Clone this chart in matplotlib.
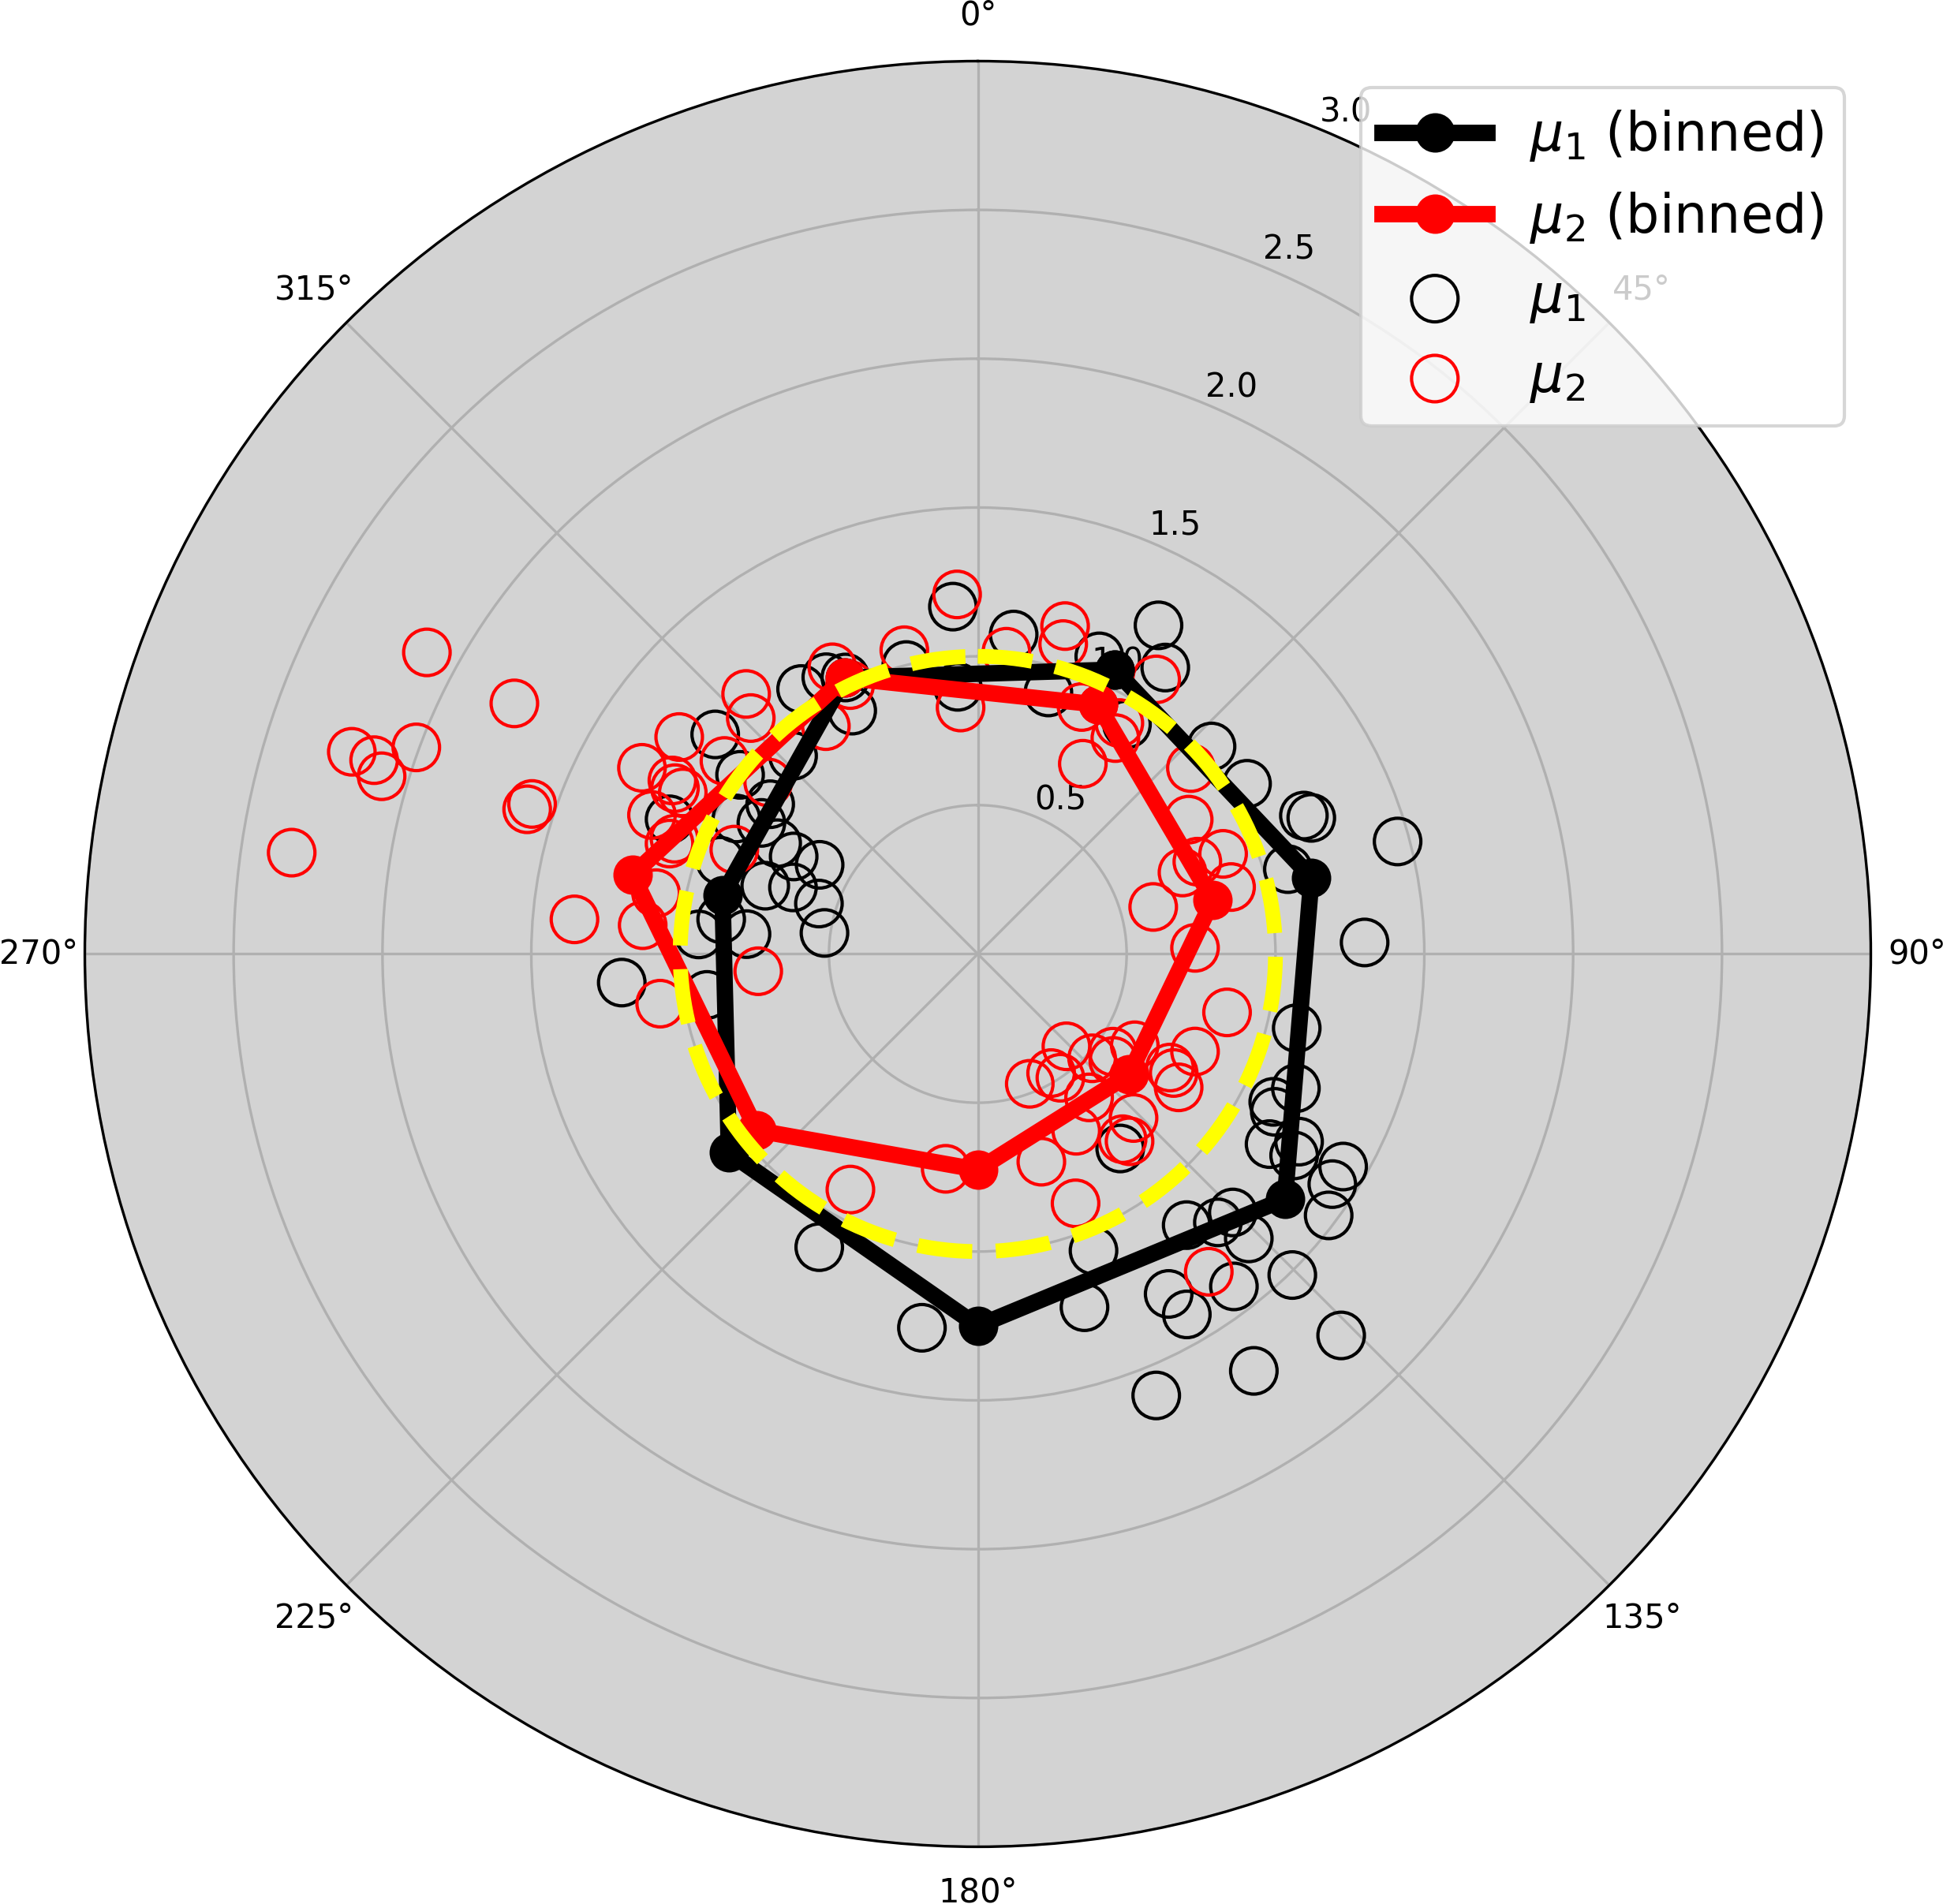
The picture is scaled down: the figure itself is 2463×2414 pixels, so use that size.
import numpy as np
import matplotlib
matplotlib.use("Agg")
import matplotlib.pyplot as plt

# bin centres (deg) and binned means
bin_theta = [25.7, 77.1, 128.6, 180.0, 231.4, 282.9, 334.3]
mu1_binned = [1.06, 1.15, 1.32, 1.25, 1.07, 0.88, 1.03]
mu2_binned = [0.93, 0.81, 0.65, 0.725, 0.95, 1.19, 1.03]

# individual samples: angle (deg), value
mu1_theta = [355.9, 6.4, 355.7, 15.1, 22.2, 28.8, 33.2, 33.0, 346.1, 332.7,
             334.4, 331.3, 326.3, 48.4, 57.7, 67.8, 67.0, 75.0, 74.7, 88.3,
             103.1, 112.9, 116.6, 118.0, 123.1, 120.3, 120.2, 123.0, 126.7, 142.4,
             138.2, 135.4, 136.4, 135.6, 136.4, 146.5, 158.0, 142.4, 149.9, 150.7,
             163.2, 158.7, 143.8, 188.5, 122.5, 265.4, 261.4, 208.4, 274.0, 274.9,
             277.8, 277.7, 309.9, 307.0, 305.8, 301.2, 293.6, 317.0, 297.9, 299.4,
             287.8, 289.8, 287.6, 299.3, 289.9, 298.9]
mu1_r = [1.17, 1.08, 0.90, 0.91, 1.08, 1.26, 1.15, 0.92, 1.00, 0.92,
         1.03, 1.06, 1.07, 1.05, 1.07, 1.21, 1.19, 1.46, 1.08, 1.30,
         1.10, 1.16, 1.11, 1.13, 1.17, 1.25, 1.42, 1.42, 1.47, 1.15,
         1.21, 1.22, 1.32, 1.51, 1.77, 1.68, 1.60, 1.41, 1.40, 1.31,
         1.24, 1.07, 0.81, 1.27, 1.26, 1.20, 0.92, 1.12, 0.94, 0.78,
         0.52, 0.87, 1.15, 1.00, 0.86, 0.85, 1.13, 0.91, 0.70, 0.61,
         0.75, 0.66, 0.56, 0.93, 0.92, 0.77]

mu2_theta = [298.7, 298.4, 287.9, 287.8, 286.6, 290.2, 288.6, 287.8, 278.4, 274.9,
             299.0, 306.0, 318.3, 316.1, 307.3, 298.7, 298.7, 293.1, 293.2, 309.3,
             280.7, 274.9, 265.5, 261.1, 290.8, 356.7, 346.4, 5.4, 14.9, 15.4,
             356.0, 22.8, 28.9, 32.5, 31.5, 33.0, 333.1, 334.6, 326.3, 299.6,
             289.7, 75.0, 48.9, 57.5, 67.8, 67.2, 68.3, 75.2, 88.4, 103.2,
             136.2, 114.2, 120.6, 120.2, 125.9, 132.4, 148.4, 158.2, 121.3, 123.6,
             128.3, 146.3, 142.2, 136.5, 142.0, 141.0, 150.9, 163.0, 158.6, 144.0,
             208.4, 188.5]
mu2_r = [2.11, 1.77, 2.21, 2.13, 2.09, 2.01, 1.58, 1.59, 2.33, 1.36,
         1.29, 1.24, 1.17, 1.10, 1.07, 1.16, 1.13, 1.19, 0.89, 0.91,
         1.10, 1.13, 0.74, 1.08, 1.09, 1.21, 1.05, 1.02, 1.14, 1.08,
         0.83, 0.90, 0.73, 0.86, 0.91, 1.10, 1.08, 1.00, 0.92, 1.18,
         1.10, 0.61, 0.95, 0.84, 0.89, 0.80, 0.74, 0.88, 0.73, 0.86,
         0.43, 0.80, 0.75, 0.61, 0.56, 0.52, 0.47, 0.47, 0.77, 0.81,
         0.58, 0.50, 0.61, 0.76, 0.79, 0.81, 0.68, 0.73, 0.90, 1.32,
         0.90, 0.73]

ref_radius = 1.0
r_ticks = [0.5, 1.0, 1.5, 2.0, 2.5, 3.0]

fig = plt.figure(figsize=(2463 / 300, 2414 / 300), dpi=300)
ax = fig.add_axes([0.04365, 0.03003, 0.9192, 0.9379], projection='polar')
ax.set_theta_zero_location('N')
ax.set_theta_direction(-1)
ax.set_facecolor('lightgray')

ax.scatter(np.radians(mu1_theta), mu1_r, s=200, facecolors='none',
           edgecolors='black', linewidths=1.0, label=r'$\mu_1$', zorder=2)
ax.scatter(np.radians(mu2_theta), mu2_r, s=200, facecolors='none',
           edgecolors='red', linewidths=1.0, label=r'$\mu_2$', zorder=2)

# close the binned curves
t_closed = np.radians(bin_theta + bin_theta[:1])
ax.plot(t_closed, mu1_binned + mu1_binned[:1], '-o', color='black', lw=5,
        markersize=11, label=r'$\mu_1$ (binned)', zorder=3)
ax.plot(t_closed, mu2_binned + mu2_binned[:1], '-o', color='red', lw=5,
        markersize=11, label=r'$\mu_2$ (binned)', zorder=3)

circ = np.linspace(0, 2 * np.pi, 400)
ax.plot(circ, np.full_like(circ, ref_radius), '--', color='yellow', lw=4.5, zorder=4)

ax.set_rlim(0, 3.0)
ax.set_rticks(r_ticks)
ax.set_thetagrids(np.arange(0, 360, 45))
ax.grid(True, color='#b0b0b0')

handles, labels = ax.get_legend_handles_labels()
order = [2, 3, 0, 1]
ax.legend([handles[i] for i in order], [labels[i] for i in order],
          loc='upper right', fontsize=16)

plt.savefig('out.png', dpi=300)
